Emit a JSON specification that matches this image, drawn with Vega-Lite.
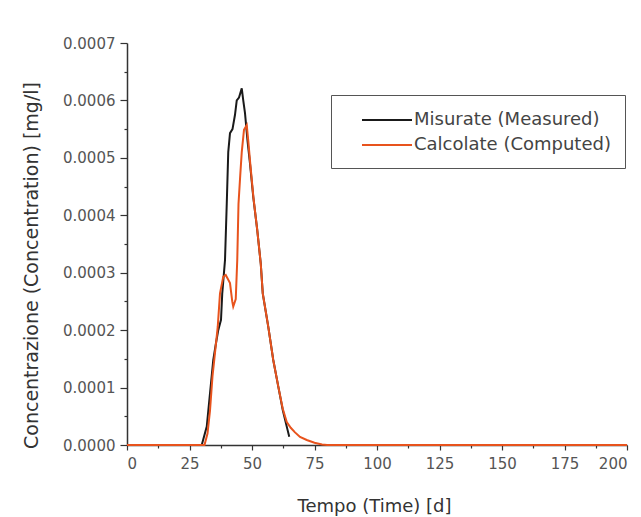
{
  "$schema": "https://vega.github.io/schema/vega-lite/v6.json",
  "width": 500,
  "height": 402,
  "autosize": "none",
  "padding": {"left": 127, "top": 43, "right": 14, "bottom": 72},
  "background": "#ffffff",
  "config": {"view": {"stroke": null}, "font": "DejaVu Sans"},
  "data": {
    "values": [
      {"series": "Misurate (Measured)", "t": 29.9, "c": 0},
      {"series": "Misurate (Measured)", "t": 31.9, "c": 0.000032},
      {"series": "Misurate (Measured)", "t": 33.2, "c": 0.00009},
      {"series": "Misurate (Measured)", "t": 34.5, "c": 0.000148},
      {"series": "Misurate (Measured)", "t": 35.5, "c": 0.000175},
      {"series": "Misurate (Measured)", "t": 36.5, "c": 0.0002},
      {"series": "Misurate (Measured)", "t": 37.6, "c": 0.000218},
      {"series": "Misurate (Measured)", "t": 38.1, "c": 0.000264},
      {"series": "Misurate (Measured)", "t": 39.2, "c": 0.000322},
      {"series": "Misurate (Measured)", "t": 39.9, "c": 0.00042},
      {"series": "Misurate (Measured)", "t": 40.5, "c": 0.00051},
      {"series": "Misurate (Measured)", "t": 41.2, "c": 0.000543},
      {"series": "Misurate (Measured)", "t": 42.2, "c": 0.00055},
      {"series": "Misurate (Measured)", "t": 43.2, "c": 0.000575},
      {"series": "Misurate (Measured)", "t": 43.9, "c": 0.0006},
      {"series": "Misurate (Measured)", "t": 44.8, "c": 0.000605},
      {"series": "Misurate (Measured)", "t": 45.9, "c": 0.000621},
      {"series": "Misurate (Measured)", "t": 46.5, "c": 0.0006},
      {"series": "Misurate (Measured)", "t": 47.2, "c": 0.000578},
      {"series": "Misurate (Measured)", "t": 48.2, "c": 0.00053},
      {"series": "Misurate (Measured)", "t": 49.2, "c": 0.00049},
      {"series": "Misurate (Measured)", "t": 50.5, "c": 0.000432},
      {"series": "Misurate (Measured)", "t": 52.1, "c": 0.000374},
      {"series": "Misurate (Measured)", "t": 53.5, "c": 0.000316},
      {"series": "Misurate (Measured)", "t": 54.3, "c": 0.000264},
      {"series": "Misurate (Measured)", "t": 56.5, "c": 0.000206},
      {"series": "Misurate (Measured)", "t": 58.5, "c": 0.000148},
      {"series": "Misurate (Measured)", "t": 60.5, "c": 0.000102},
      {"series": "Misurate (Measured)", "t": 62.3, "c": 0.000061},
      {"series": "Misurate (Measured)", "t": 63.9, "c": 0.000032},
      {"series": "Misurate (Measured)", "t": 64.9, "c": 0.0000145},
      {"series": "Calcolate (Computed)", "t": 0, "c": 0},
      {"series": "Calcolate (Computed)", "t": 31, "c": 0},
      {"series": "Calcolate (Computed)", "t": 32.2, "c": 0.00002},
      {"series": "Calcolate (Computed)", "t": 33.2, "c": 0.00006},
      {"series": "Calcolate (Computed)", "t": 34.2, "c": 0.00012},
      {"series": "Calcolate (Computed)", "t": 34.9, "c": 0.000148},
      {"series": "Calcolate (Computed)", "t": 36.3, "c": 0.000206},
      {"series": "Calcolate (Computed)", "t": 37.2, "c": 0.000264},
      {"series": "Calcolate (Computed)", "t": 38.5, "c": 0.000293},
      {"series": "Calcolate (Computed)", "t": 39.5, "c": 0.000296},
      {"series": "Calcolate (Computed)", "t": 41.2, "c": 0.000282},
      {"series": "Calcolate (Computed)", "t": 42.1, "c": 0.00025},
      {"series": "Calcolate (Computed)", "t": 42.5, "c": 0.000241},
      {"series": "Calcolate (Computed)", "t": 43.5, "c": 0.000254},
      {"series": "Calcolate (Computed)", "t": 44.1, "c": 0.000322},
      {"series": "Calcolate (Computed)", "t": 44.6, "c": 0.00042},
      {"series": "Calcolate (Computed)", "t": 45.3, "c": 0.00047},
      {"series": "Calcolate (Computed)", "t": 45.9, "c": 0.00051},
      {"series": "Calcolate (Computed)", "t": 46.8, "c": 0.000549},
      {"series": "Calcolate (Computed)", "t": 47.9, "c": 0.000557},
      {"series": "Calcolate (Computed)", "t": 48.5, "c": 0.00053},
      {"series": "Calcolate (Computed)", "t": 49.3, "c": 0.00049},
      {"series": "Calcolate (Computed)", "t": 50.6, "c": 0.00043},
      {"series": "Calcolate (Computed)", "t": 52.1, "c": 0.000374},
      {"series": "Calcolate (Computed)", "t": 53.5, "c": 0.000316},
      {"series": "Calcolate (Computed)", "t": 54.3, "c": 0.000264},
      {"series": "Calcolate (Computed)", "t": 56.5, "c": 0.000206},
      {"series": "Calcolate (Computed)", "t": 58.5, "c": 0.000148},
      {"series": "Calcolate (Computed)", "t": 60.5, "c": 0.000102},
      {"series": "Calcolate (Computed)", "t": 62.3, "c": 0.000063},
      {"series": "Calcolate (Computed)", "t": 63.9, "c": 0.00004},
      {"series": "Calcolate (Computed)", "t": 65.5, "c": 0.00003},
      {"series": "Calcolate (Computed)", "t": 67.2, "c": 0.000022},
      {"series": "Calcolate (Computed)", "t": 69.2, "c": 0.000014},
      {"series": "Calcolate (Computed)", "t": 71.9, "c": 0.0000087},
      {"series": "Calcolate (Computed)", "t": 75, "c": 0.000004},
      {"series": "Calcolate (Computed)", "t": 78, "c": 0.000001},
      {"series": "Calcolate (Computed)", "t": 80, "c": 0},
      {"series": "Calcolate (Computed)", "t": 200, "c": 0}
    ]
  },
  "mark": {"type": "line", "strokeWidth": 2, "interpolate": "linear"},
  "encoding": {
    "x": {
      "field": "t",
      "type": "quantitative",
      "scale": {"domain": [0, 200], "nice": false},
      "axis": {
        "title": "Tempo (Time) [d]",
        "values": [0, 12.5, 25, 37.5, 50, 62.5, 75, 87.5, 100, 112.5, 125, 137.5, 150, 162.5, 175, 187.5, 200],
        "labelExpr": "datum.value % 25 == 0 ? datum.label : ''",
        "grid": false,
        "domainColor": "#333333",
        "domainWidth": 1.5,
        "tickColor": "#333333",
        "tickWidth": 1.2,
        "tickSize": {"condition": {"test": "datum.value % 25 == 0", "value": 5}, "value": 3},
        "labelFont": "DejaVu Sans",
        "labelFontSize": 15,
        "labelColor": "#555555",
        "labelPadding": 6,
        "titleFont": "DejaVu Sans",
        "titleFontSize": 18,
        "titleFontWeight": "normal",
        "titleColor": "#333333",
        "titleX": 247,
        "titleY": 61,
        "titleBaseline": "middle",
        "titleAnchor": "middle"
      }
    },
    "y": {
      "field": "c",
      "type": "quantitative",
      "scale": {"domain": [0, 0.0007], "nice": false},
      "axis": {
        "title": "Concentrazione (Concentration) [mg/l]",
        "values": [0, 0.00005, 0.0001, 0.00015, 0.0002, 0.00025, 0.0003, 0.00035, 0.0004, 0.00045, 0.0005, 0.00055, 0.0006, 0.00065, 0.0007],
        "labelExpr": "round(datum.value * 20000) % 2 == 0 ? format(datum.value, '.4f') : ''",
        "grid": false,
        "domainColor": "#333333",
        "domainWidth": 1.5,
        "tickColor": "#333333",
        "tickWidth": 1.2,
        "tickSize": {"condition": {"test": "round(datum.value * 20000) % 2 == 0", "value": 7}, "value": 3},
        "labelFont": "DejaVu Sans",
        "labelFontSize": 15,
        "labelColor": "#555555",
        "labelPadding": 5,
        "titleFont": "DejaVu Sans",
        "titleFontSize": 19,
        "titleFontWeight": "normal",
        "titleColor": "#333333",
        "titleAngle": -90,
        "titleX": -96,
        "titleY": 222,
        "titleBaseline": "middle",
        "titleAlign": "center"
      }
    },
    "color": {
      "field": "series",
      "type": "nominal",
      "scale": {
        "domain": ["Misurate (Measured)", "Calcolate (Computed)"],
        "range": ["#1a1a1a", "#e8531d"]
      },
      "legend": {
        "title": null,
        "orient": "none",
        "legendX": 204,
        "legendY": 52,
        "direction": "vertical",
        "fillColor": "#ffffff",
        "strokeColor": "#555555",
        "padding": 14,
        "symbolType": "M-2.5,0H2.5",
        "symbolSize": 400,
        "symbolStrokeWidth": 2,
        "symbolOffset": 31,
        "labelFont": "DejaVu Sans",
        "labelFontSize": 18,
        "labelLimit": 400,
        "labelColor": "#444444",
        "labelOffset": 16,
        "rowPadding": 5
      }
    }
  }
}
